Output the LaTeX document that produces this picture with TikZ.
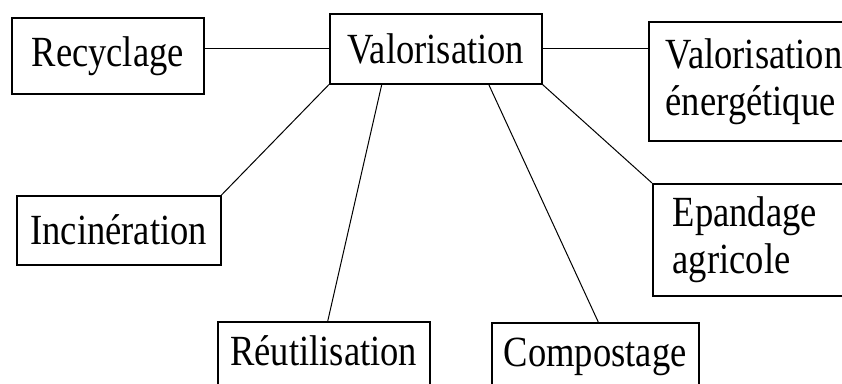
\documentclass[tikz,border=0pt]{standalone}
\usepackage{fontspec}
\setmainfont{Liberation Serif}[FakeStretch=0.85]
\begin{document}
\begin{tikzpicture}[x=1pt,y=-1pt,
   boite/.style={draw,line width=1.5pt,anchor=north west,inner xsep=0pt,font=\fontsize{43}{47}\selectfont},
   lien/.style={line width=1pt}]

\useasboundingbox (0,0) rectangle (842,383);
\clip (0,0) rectangle (842,383);

%% boites du haut
   \node [boite,minimum width=212pt,minimum height=70pt] (val) at (329,13) {Valorisation};
   \node [boite,minimum width=192pt,minimum height=76pt] (rec) at (11,17) {Recyclage};
   \node [boite,align=left,text width=200pt,inner xsep=17pt,minimum height=119pt] (ener) at (648,21) {Valorisation\\énergétique};

%% boites du bas
   \node [boite,minimum width=204pt,minimum height=69pt] (inc) at (16,195) {Incinération};
   \node [boite,align=left,text width=200pt,inner xsep=20pt,minimum height=112pt] (epa) at (652,183) {Epandage\\agricole};
   \node [boite,minimum width=212pt,inner ysep=4pt,text height=40pt,text depth=40pt] (reu) at (217,321) {Réutilisation};
   \node [boite,minimum width=207pt,inner ysep=4pt,text height=40pt,text depth=40pt] (comp) at (491,322) {Compostage};

%% liens
   \draw [lien] (rec.east |- val.west) -- (val.west);
   \draw [lien] (val.east) -- (val.east -| ener.west);
   \draw [lien] (val.south west) -- (inc.north east);
   \draw [lien] ([xshift=-54pt]val.south) -- ([xshift=4pt]reu.north);
   \draw [lien] ([xshift=53pt]val.south) -- ([xshift=3pt]comp.north);
   \draw [lien] (val.south east) -- (epa.north west);

\end{tikzpicture}
\end{document}
